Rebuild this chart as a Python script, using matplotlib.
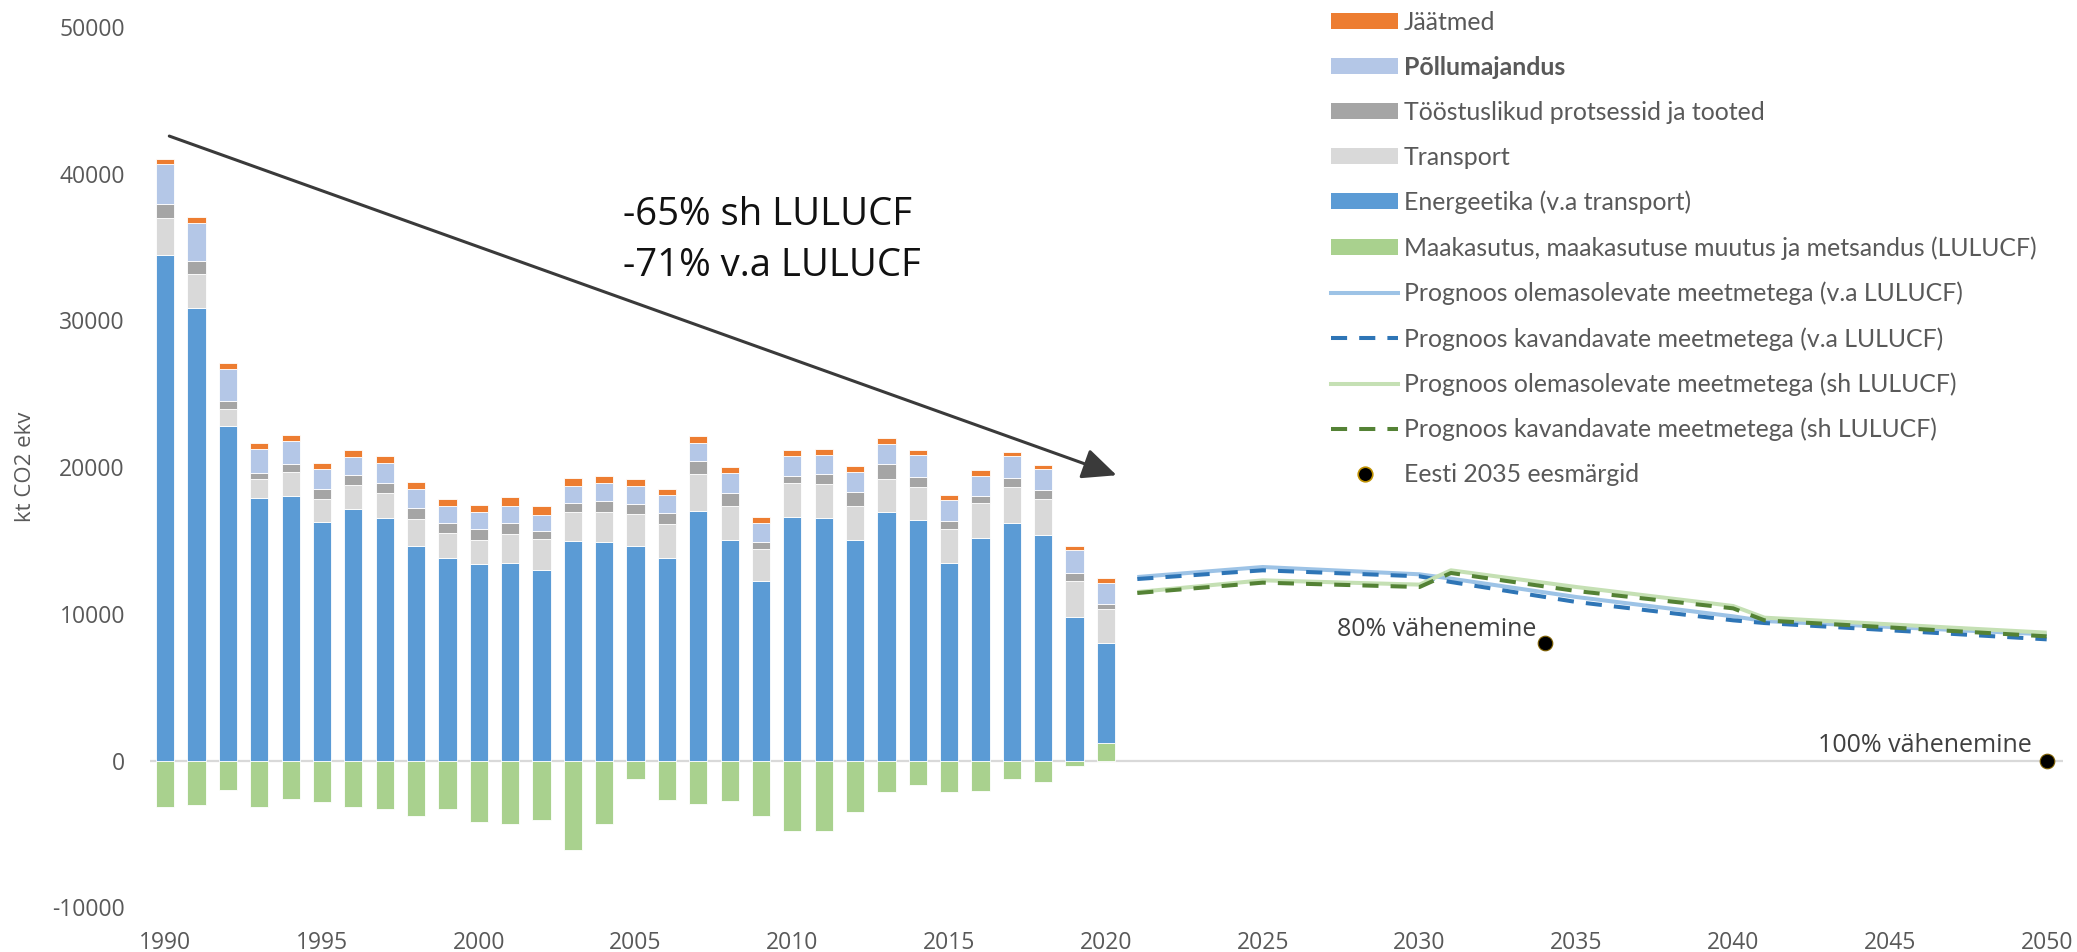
import matplotlib
matplotlib.use("Agg")
import matplotlib.pyplot as plt
import numpy as np
from matplotlib.patches import Patch
from matplotlib.lines import Line2D

plt.rcParams['font.family'] = ['Open Sans', 'DejaVu Sans']

# ---------------- data ----------------
years = list(range(1990, 2021))
energeetika = [34485, 30850, 22800, 17915, 18040, 16255, 17132, 16537, 14626, 13812,
               13405, 13468, 12998, 14971, 14908, 14658, 13812, 17038, 15034, 12277,
               16600, 16568, 15065, 16944, 16380, 13499, 15159, 16192, 15378, 9803, 6859]
transport = [2475, 2290, 1160, 1285, 1630, 1597, 1660, 1723, 1817, 1691,
             1660, 2004, 2130, 2004, 2067, 2129, 2318, 2474, 2317, 2162,
             2317, 2318, 2318, 2255, 2287, 2318, 2412, 2475, 2443, 2474, 2287]
toostus = [940, 905, 560, 405, 563, 627, 658, 689, 752, 689,
           689, 720, 532, 564, 752, 721, 751, 908, 909, 469,
           501, 626, 908, 1002, 657, 501, 469, 563, 626, 533, 313]
pollumajandus = [2720, 2595, 2200, 1661, 1534, 1378, 1253, 1315, 1284, 1128,
                 1190, 1159, 1096, 1190, 1190, 1221, 1191, 1253, 1315, 1284,
                 1316, 1284, 1378, 1410, 1472, 1472, 1378, 1504, 1441, 1566, 1472]
jaatmed = [350, 380, 400, 407, 439, 407, 438, 470, 501, 501,
           501, 595, 564, 533, 501, 470, 469, 470, 438, 439,
           407, 439, 407, 344, 345, 313, 376, 313, 282, 282, 313]
lulucf = [-3178, -3019, -2020, -3178, -2610, -2792, -3155, -3269, -3745, -3314,
          -4177, -4313, -4041, -6061, -4313, -1271, -2679, -2928, -2724, -3791,
          -4812, -4812, -3519, -2157, -1680, -2111, -2088, -1271, -1430, -363, 1190]

proj_years = [2021, 2025, 2030, 2031, 2035, 2040, 2041, 2050]
wem_excl = [12515, 13197, 12700, 12406, 11153, 9836, 9517, 8609]
wam_excl = [12379, 12972, 12563, 12175, 10813, 9564, 9380, 8269]
wem_incl = [11493, 12290, 11997, 12972, 11834, 10540, 9745, 8724]
wam_incl = [11425, 12131, 11834, 12790, 11561, 10380, 9563, 8473]

target_years = [2034, 2050]
target_vals = [8050, 0]
target_labels = ["80% vähenemine", "100% vähenemine"]

xticks = list(range(1990, 2051, 5))
yticks = list(range(-10000, 50001, 10000))

labels = ["Jäätmed", "Põllumajandus", "Tööstuslikud protsessid ja tooted", "Transport",
          "Energeetika (v.a transport)",
          "Maakasutus, maakasutuse muutus ja metsandus (LULUCF)",
          "Prognoos olemasolevate meetmetega (v.a LULUCF)",
          "Prognoos kavandavate meetmetega (v.a LULUCF)",
          "Prognoos olemasolevate meetmetega (sh LULUCF)",
          "Prognoos kavandavate meetmetega (sh LULUCF)",
          "Eesti 2035 eesmärgid"]

c_waste = '#ED7D31'
c_agri = '#B4C7E7'
c_ind = '#A5A5A5'
c_tr = '#D9D9D9'
c_en = '#5B9BD5'
c_lu = '#A9D18E'

# ---------------- figure ----------------
W, H = 2077, 952
fig = plt.figure(figsize=(W / 100, H / 100), dpi=100)
ax = fig.add_axes([150 / W, 1 - 907.5 / H, (2063 - 150) / W, (907.5 - 26.8) / H])

x = np.array(years)
lu = np.array(lulucf, dtype=float)
base = np.clip(lu, 0, None)
bw = 0.58
ek = dict(edgecolor='white', linewidth=0.6, width=bw, zorder=2)

ax.axhline(0, color='#D9D9D9', lw=1.6, zorder=1)
ax.bar(x, lu, color=c_lu, **ek)
ax.bar(x, energeetika, bottom=base, color=c_en, **ek)
bot = base + np.array(energeetika)
ax.bar(x, transport, bottom=bot, color=c_tr, **ek)
bot = bot + np.array(transport)
ax.bar(x, toostus, bottom=bot, color=c_ind, **ek)
bot = bot + np.array(toostus)
ax.bar(x, pollumajandus, bottom=bot, color=c_agri, **ek)
bot = bot + np.array(pollumajandus)
ax.bar(x, jaatmed, bottom=bot, color=c_waste, **ek)

lw = 2.9
ax.plot(proj_years, wem_excl, color='#9DC3E6', lw=lw, zorder=3, solid_capstyle='butt')
ax.plot(proj_years, wam_excl, color='#2E75B6', lw=lw, ls=(0, (4, 3)), zorder=4)
ax.plot(proj_years, wem_incl, color='#C5E0B4', lw=lw, zorder=5, solid_capstyle='butt')
ax.plot(proj_years, wam_incl, color='#548235', lw=lw, ls=(0, (4, 3)), zorder=6)
ax.plot(target_years, target_vals, ls='none', marker='o', ms=10.5,
        markerfacecolor='black', markeredgecolor='#7F6000', mew=0.8, zorder=7)

offsets = [(-6.5, 4.5), (-11, 6)]
for xv, yv, t, off in zip(target_years, target_vals, target_labels, offsets):
    ax.annotate(t, (xv, yv), xytext=off, textcoords='offset points',
                ha='right', va='baseline', fontsize=18, color='#404040', zorder=8)

ax.text(2004.59, 36490, "-65% sh LULUCF", fontsize=27.5, color='#111111', va='baseline', ha='left')
ax.text(2004.59, 33054, "-71% v.a LULUCF", fontsize=27.5, color='#111111', va='baseline', ha='left')

ax.annotate("", xy=(2020.34, 19448), xytext=(1990.13, 42556),
            arrowprops=dict(arrowstyle='-|>,head_length=21,head_width=9.5', mutation_scale=1,
                            color='#3A3A3A', lw=2.2, shrinkA=0, shrinkB=0))

ax.set_xlim(1989.515, 2050.52)
ax.set_ylim(-10000, 50000)
ax.set_xticks(xticks)
ax.set_xticklabels([str(v) for v in xticks])
ax.set_yticks(yticks)
ax.set_yticklabels([str(v) for v in yticks])
for s in ax.spines.values():
    s.set_visible(False)
ax.tick_params(axis='both', length=0, labelsize=16.5, colors='#595959')
ax.tick_params(axis='y', pad=18)
ax.tick_params(axis='x', pad=17)
fig.text(26 / W, 1 - 467 / H, "kt CO2 ekv", rotation=90, fontsize=16, color='#595959',
         ha='center', va='center')

handles = [Patch(facecolor=c_waste), Patch(facecolor=c_agri), Patch(facecolor=c_ind),
           Patch(facecolor=c_tr), Patch(facecolor=c_en), Patch(facecolor=c_lu),
           Line2D([], [], color='#9DC3E6', lw=lw),
           Line2D([], [], color='#2E75B6', lw=lw, ls=(0, (4, 3))),
           Line2D([], [], color='#C5E0B4', lw=lw),
           Line2D([], [], color='#548235', lw=lw, ls=(0, (4, 3))),
           Line2D([], [], ls='none', marker='o', ms=10.5, markerfacecolor='black',
                  markeredgecolor='#BF9000', mew=1.2)]
leg = fig.legend(handles, labels, loc='upper left', bbox_to_anchor=(1330.6 / W, 1 - 11 / H),
                 frameon=False, prop={'family': ['Lato', 'DejaVu Sans'], 'size': 17.9},
                 handlelength=2.73, handleheight=0.62, handletextpad=0.22,
                 labelspacing=0.88, borderpad=0, borderaxespad=0, labelcolor='#595959')
leg.get_texts()[1].set_fontweight('bold')

fig.savefig("out.png", dpi=100)
